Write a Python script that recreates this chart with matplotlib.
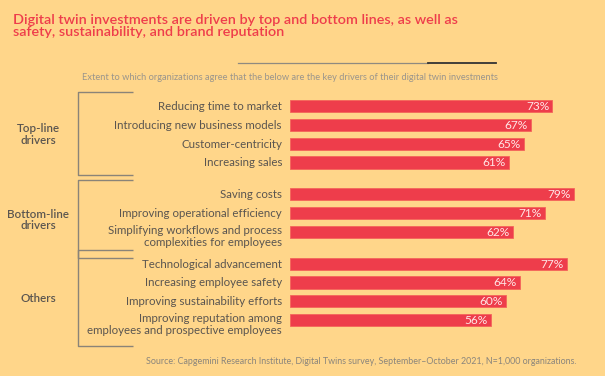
import matplotlib
matplotlib.use("Agg")
import matplotlib.pyplot as plt

plt.rcParams['font.family'] = ['Lato', 'DejaVu Sans']

# --- data ---
groups = ['Top-line\ndrivers', 'Bottom-line\ndrivers', 'Others']
categories = [
    ['Reducing time to market', 'Introducing new business models',
     'Customer-centricity', 'Increasing sales'],
    ['Saving costs', 'Improving operational efficiency',
     'Simplifying workflows and process\ncomplexities for employees'],
    ['Technological advancement', 'Increasing employee safety',
     'Improving sustainability efforts',
     'Improving reputation among\nemployees and prospective employees'],
]
values = [
    [73, 67, 65, 61],
    [79, 71, 62],
    [77, 64, 60, 56],
]

BG = '#FFD68A'
RED = '#EE3D4B'
TEXT = '#5A5550'

W, H = 605, 376
fig = plt.figure(figsize=(W / 100, H / 100), dpi=100, facecolor=BG)

# bar axes: zero at x=290px, spans to right edge; y in pixel units (top down)
ax_left, ax_right = 290, 605
ax = fig.add_axes([ax_left / W, 0, (ax_right - ax_left) / W, 1])
ax.set_facecolor('none')
px_per_pct = 3.595
ax.set_xlim(0, (ax_right - ax_left) / px_per_pct)
ax.set_ylim(H, 0)
ax.axis('off')

# overlay axes in pixel coordinates for decorations
ov = fig.add_axes([0, 0, 1, 1])
ov.set_xlim(0, W)
ov.set_ylim(H, 0)
ov.axis('off')
ov.set_facecolor('none')

step = 18.8
group_gap = 13
bar_h = 12.2
y = 106
for g, (gname, cats, vals) in enumerate(zip(groups, categories, values)):
    ys = []
    for c, v in zip(cats, vals):
        ax.barh(y, v, height=bar_h, color=RED, edgecolor='#F4655A', linewidth=0.6)
        ax.text(v - 0.9, y + 0.5, f'{v}%', ha='right', va='center',
                color='#FFE6E6', fontsize=8.6)
        two = '\n' in c
        ov.text(282, y + (4.5 if two else 0.5), c, ha='right', va='center',
                color=TEXT, fontsize=8.25, linespacing=1.05)
        ys.append(y)
        y += step
    top = ys[0] - 14
    bot = ys[-1] + (26 if '\n' in cats[-1] else 12.5)
    ov.plot([133, 78, 78, 133], [top, top, bot, bot], color='#8A8478', lw=1.0,
            solid_capstyle='butt')
    ov.text(38, (top + bot) / 2 + 1, gname, ha='center', va='center',
            color=TEXT, fontsize=8.4, fontweight='semibold', linespacing=1.1)
    y += group_gap

# title
ov.text(13, 13.5, 'Digital twin investments are driven by top and bottom lines, as well as\n'
        'safety, sustainability, and brand reputation', ha='left', va='top',
        color=RED, fontsize=10.35, fontweight='semibold', linespacing=1.05)

# header rule
ov.plot([238, 428], [63.3, 63.3], color='#8F8A80', lw=0.9)
ov.plot([428, 496], [63.3, 63.3], color='#333333', lw=1.3)
ov.text(498, 77.5, 'Extent to which organizations agree that the below are the key '
        'drivers of their digital twin investments', ha='right', va='center',
        color='#9A958C', fontsize=6.65)

ov.text(576, 362, 'Source: Capgemini Research Institute, Digital Twins survey, '
        'September\u2013October 2021, N=1,000 organizations.', ha='right',
        va='center', color='#8A857C', fontsize=6.4)

fig.savefig('out.png', dpi=100, facecolor=BG)
